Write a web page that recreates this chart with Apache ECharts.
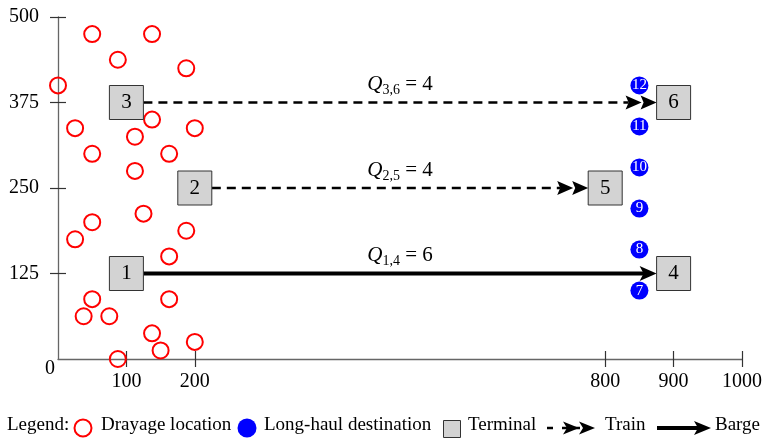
<!DOCTYPE html>
<html><head><meta charset="utf-8">
<script src="https://cdn.jsdelivr.net/npm/echarts@6/dist/echarts.min.js"></script>
<style>html,body{margin:0;padding:0;background:#fff}#c{width:765px;height:438px}</style>
</head><body><div id="c"></div>
<script>
// ---- data ----
const drayageX = [50,137.5,87.5,187.5,0,137.5,25,200,112.5,50,162.5,112.5,125,50,25,187.5,162.5,50,162.5,37.5,75,137.5,200,150,87.5];
const drayageY = [475,475,437.5,425,400,350,337.5,337.5,325,300,300,275,212.5,200,175,187.5,150,87.5,87.5,62.5,62.5,37.5,25,12.5,0];
const longHaulId = [7,8,9,10,11,12];
const longHaulX = [850,850,850,850,850,850];
const longHaulY = [100,160,220,280,340,400];
const terminalId = [1,2,3,4,5,6];
const terminalX = [100,200,100,900,800,900];
const terminalY = [125,250,375,125,250,375];
const routeFrom = [1,2,3];
const routeTo = [4,5,6];
const routeMode = ['Barge','Train','Train'];
const routeQty = [6,4,4];
const xTicks = [100,200,800,900,1000];
const yTicks = [125,250,375,500];
const yLabels = [0,125,250,375,500];

const FONT = 'Liberation Serif';
const chart = echarts.init(document.getElementById('c'));

const drayageData = drayageX.map((x,i)=>[x, drayageY[i]]);
const longHaulData = longHaulX.map((x,i)=>[x, longHaulY[i], longHaulId[i]]);
const terminalData = terminalX.map((x,i)=>[x, terminalY[i], terminalId[i]]);
const routeData = routeFrom.map((f,i)=>{
  const a = terminalId.indexOf(f), b = terminalId.indexOf(routeTo[i]);
  return [terminalX[a], terminalY[a], terminalX[b], terminalY[b], routeQty[i], routeMode[i]==='Barge'?1:0, f, routeTo[i]];
});

const HALF = 17;
function renderRoute(params, api){
  const p1 = api.coord([api.value(0), api.value(1)]);
  const p2 = api.coord([api.value(2), api.value(3)]);
  const x0 = p1[0] + HALF, x1 = p2[0] - HALF, y = p1[1];
  const barge = api.value(5) === 1;
  const ch = [];
  if (barge) {
    ch.push({type:'line', shape:{x1:x0,y1:y,x2:x1-12,y2:y}, style:{stroke:'#000', lineWidth:4}});
    ch.push({type:'polygon', shape:{points:[[x1,y],[x1-17,y-7.5],[x1-13,y],[x1-17,y+7.5]]}, style:{fill:'#000'}});
  } else {
    ch.push({type:'line', shape:{x1:x0,y1:y,x2:x1-28,y2:y}, style:{stroke:'#000', lineWidth:2.5, lineDash:[9,6]}});
    [x1, x1-15].forEach(t=>{
      ch.push({type:'polygon', shape:{points:[[t,y],[t-16,y-7],[t-13,y],[t-16,y+7]]}, style:{fill:'#000'}});
    });
  }
  ch.push({type:'text', x:(x0+x1)/2, y:y-5, style:{
    text:'{q|Q}{s|'+api.value(6)+','+api.value(7)+'}{e| = '+api.value(4)+'}',
    align:'center', verticalAlign:'bottom',
    rich:{
      q:{fontFamily:FONT, fontStyle:'italic', fontSize:21, lineHeight:26, fill:'#000', verticalAlign:'middle'},
      s:{fontFamily:FONT, fontSize:14, lineHeight:14, fill:'#000', verticalAlign:'bottom'},
      e:{fontFamily:FONT, fontSize:21, lineHeight:26, fill:'#000', verticalAlign:'middle'}
    }
  }});
  return {type:'group', children:ch};
}

const axisLineStyle = {color:'#666', width:1.3};
const tickStyle = {color:'#333', width:1.2};

const legendY = 427;
const legendText = (x, t) => ({type:'text', left:x, top:legendY-11, style:{text:t, fontFamily:FONT, fontSize:19, fill:'#000'}});

const option = {
  animation:false,
  backgroundColor:'#fff',
  grid:{left:58, right:23, top:17, bottom:79, containLabel:false},
  xAxis:[
    {type:'value', min:0, max:1000, position:'bottom', splitLine:{show:false},
     axisLine:{show:true, onZero:false, lineStyle:axisLineStyle},
     axisTick:{show:true, inside:false, length:8, customValues:xTicks, lineStyle:tickStyle},
     axisLabel:{customValues:xTicks, margin:13, formatter:v=>String(v), fontFamily:FONT, fontSize:20, color:'#000'}},
    {type:'value', min:0, max:1000, position:'bottom', splitLine:{show:false},
     axisLine:{show:false},
     axisTick:{show:true, inside:true, length:8, customValues:xTicks, lineStyle:tickStyle},
     axisLabel:{show:false}}
  ],
  yAxis:[
    {type:'value', min:0, max:500, position:'left', splitLine:{show:false},
     axisLine:{show:true, onZero:false, lineStyle:axisLineStyle},
     axisTick:{show:true, inside:false, length:8, customValues:yTicks, lineStyle:tickStyle},
     axisLabel:{customValues:yLabels, margin:3, fontFamily:FONT,
       formatter:v=> v===0 ? '{z|0}' : '{n|'+v+'}',
       rich:{
         n:{padding:[0,16,0,0], fontFamily:FONT, fontSize:20, color:'#000'},
         z:{padding:[20,0,0,0], fontFamily:FONT, fontSize:20, color:'#000'}
       }}},
    {type:'value', min:0, max:500, position:'left', splitLine:{show:false},
     axisLine:{show:false},
     axisTick:{show:true, inside:true, length:8, customValues:yTicks, lineStyle:tickStyle},
     axisLabel:{show:false}}
  ],
  series:[
    {name:'Drayage location', type:'scatter', data:drayageData, symbol:'circle', symbolSize:16, z:2,
     itemStyle:{color:'rgba(0,0,0,0)', borderColor:'#ff0000', borderWidth:2, opacity:1},
     emphasis:{disabled:true}},
    {name:'Route', type:'custom', data:routeData, renderItem:renderRoute, z:3, silent:true},
    {name:'Terminal', type:'scatter', data:terminalData, symbol:'rect', symbolSize:34, z:4,
     itemStyle:{color:'#d3d3d3', borderColor:'#333', borderWidth:1, opacity:1},
     label:{show:true, position:'inside', formatter:p=>String(p.value[2]), fontFamily:FONT, fontSize:21, color:'#000'},
     emphasis:{disabled:true}},
    {name:'Long-haul destination', type:'scatter', data:longHaulData, symbol:'circle', symbolSize:18, z:4,
     itemStyle:{color:'#0000ff', opacity:1},
     label:{show:true, position:'inside', formatter:p=>String(p.value[2]), fontFamily:FONT, fontSize:15, color:'#fff'},
     emphasis:{disabled:true}}
  ],
  graphic:[
    legendText(7,'Legend:'),
    {type:'circle', shape:{cx:83, cy:428, r:8.5}, style:{fill:'none', stroke:'#ff0000', lineWidth:2}},
    legendText(101,'Drayage location'),
    {type:'circle', shape:{cx:247, cy:428, r:9.5}, style:{fill:'#0000ff'}},
    legendText(264,'Long-haul destination'),
    {type:'rect', shape:{x:443.5, y:420.5, width:17, height:17}, style:{fill:'#d3d3d3', stroke:'#333', lineWidth:1}},
    legendText(468,'Terminal'),
    {type:'line', shape:{x1:547, y1:428, x2:553, y2:428}, style:{stroke:'#000', lineWidth:2.5}},
    {type:'line', shape:{x1:562, y1:428, x2:580, y2:428}, style:{stroke:'#000', lineWidth:2.5}},
    {type:'polygon', shape:{points:[[579,428],[563,421.5],[567,428],[563,434.5]]}, style:{fill:'#000'}},
    {type:'polygon', shape:{points:[[595,428],[579,421.5],[583,428],[579,434.5]]}, style:{fill:'#000'}},
    legendText(605,'Train'),
    {type:'line', shape:{x1:657, y1:428, x2:698, y2:428}, style:{stroke:'#000', lineWidth:4}},
    {type:'polygon', shape:{points:[[711,428],[694,421],[698,428],[694,435]]}, style:{fill:'#000'}},
    legendText(715,'Barge')
  ]
};
chart.setOption(option);
</script>
</body></html>
